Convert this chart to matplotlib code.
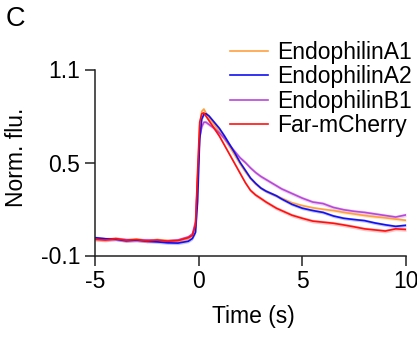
import matplotlib
matplotlib.use("Agg")
import matplotlib.pyplot as plt
import numpy as np

plt.rcParams['font.family'] = ['Liberation Sans', 'DejaVu Sans']

time_s = [-5, -4.5, -4, -3.5, -3, -2.5, -2, -1.5, -1, -0.5,
          -0.3, -0.15, -0.05, 0.05, 0.15, 0.25, 0.35,
          0.5, 0.75, 1, 1.25, 1.5, 1.75, 2, 2.25, 2.5, 2.75, 3, 3.25, 3.5, 3.75, 4,
          4.5, 5, 5.5, 6, 6.5, 7, 7.5, 8, 8.5, 9, 9.5, 10]

endo_a1 = [0.005, 0.002, 0.010, 0.000, 0.005, -0.002, 0.002, -0.004, -0.002, 0.010,
           0.030, 0.080, 0.400, 0.740, 0.830, 0.845, 0.820,
           0.790, 0.745, 0.700, 0.650, 0.600, 0.545, 0.490, 0.440, 0.395, 0.360, 0.335, 0.315, 0.300, 0.285, 0.270,
           0.240, 0.222, 0.208, 0.198, 0.190, 0.178, 0.168, 0.158, 0.150, 0.143, 0.135, 0.127]

endo_a2 = [0.015, 0.008, 0.005, -0.005, 0.000, -0.008, -0.012, -0.018, -0.020, -0.008,
           0.010, 0.050, 0.250, 0.650, 0.780, 0.810, 0.815,
           0.800, 0.760, 0.720, 0.670, 0.615, 0.560, 0.500, 0.450, 0.400, 0.365, 0.335, 0.315, 0.300, 0.285, 0.265,
           0.230, 0.205, 0.190, 0.178, 0.155, 0.140, 0.132, 0.125, 0.110, 0.098, 0.088, 0.095]

endo_b1 = [0.010, 0.004, 0.008, 0.002, -0.002, 0.000, -0.004, -0.006, 0.000, 0.020,
           0.040, 0.120, 0.400, 0.660, 0.730, 0.760, 0.760,
           0.745, 0.720, 0.690, 0.655, 0.610, 0.570, 0.530, 0.500, 0.465, 0.435, 0.410, 0.390, 0.370, 0.350, 0.330,
           0.300, 0.270, 0.245, 0.235, 0.210, 0.195, 0.185, 0.178, 0.168, 0.158, 0.148, 0.162]

far_mcherry = [0.005, 0.000, 0.008, -0.002, 0.003, -0.006, 0.000, -0.008, -0.004, 0.015,
               0.030, 0.100, 0.450, 0.760, 0.815, 0.820, 0.800,
               0.770, 0.720, 0.670, 0.610, 0.550, 0.490, 0.430, 0.370, 0.320, 0.290, 0.268, 0.245, 0.225, 0.205, 0.190,
               0.160, 0.140, 0.122, 0.115, 0.108, 0.097, 0.085, 0.072, 0.065, 0.058, 0.072, 0.068]

series_labels = ['EndophilinA1', 'EndophilinA2', 'EndophilinB1', 'Far-mCherry']
series_values = [endo_a1, endo_a2, endo_b1, far_mcherry]
series_sem = [0.010, 0.010, 0.012, 0.012]
series_colors = ['#FFA040', '#1010F0', '#B848D8', '#FF1010']
draw_order = [0, 2, 1, 3]

x_ticks = [-5, 0, 5, 10]
y_ticks = [-0.1, 0.5, 1.1]
y_ticklabels = ['-0.1', '0.5', '1.1']

W, H = 417, 338
fig = plt.figure(figsize=(W / 100, H / 100), dpi=100)
ax = fig.add_axes([95 / W, (H - 255.5) / H, (406 - 95) / W, (255.5 - 69.5) / H])

t = np.array(time_s)
handles = {}
for i in draw_order:
    y = np.array(series_values[i])
    s = series_sem[i]
    ax.fill_between(t, y - s, y + s, color=series_colors[i], alpha=0.25, lw=0)
    ln, = ax.plot(t, y, color=series_colors[i], lw=1.2, label=series_labels[i])
    handles[i] = ln

ax.set_xlim(-5, 10)
ax.set_ylim(-0.1, 1.1)
ax.set_xticks(x_ticks)
ax.set_xticklabels([str(v) for v in x_ticks])
ax.set_yticks(y_ticks)
ax.set_yticklabels(y_ticklabels)
for side in ['top', 'right']:
    ax.spines[side].set_visible(False)
for side in ['left', 'bottom']:
    ax.spines[side].set_linewidth(1.1)
    ax.spines[side].set_color('#222222')
ax.tick_params(axis='both', length=7.2, width=1.1, color='#222222', labelsize=16.5, pad=3.5)

fig.text(253.5 / W, 1 - 316.5 / H, 'Time (s)', ha='center', va='center', fontsize=16.5)
fig.text(17 / W, 1 - 157.5 / H, 'Norm. flu.', ha='center', va='center', rotation=90, fontsize=16.5)
fig.text(6 / W, 1 - 6 / H, 'C', ha='left', va='top', fontsize=19.5)

leg = fig.legend([handles[i] for i in range(4)], series_labels, loc='upper left',
                 bbox_to_anchor=(230 / W, 1 - 41 / H), frameon=False, fontsize=16.5,
                 handlelength=1.66, handletextpad=0.39, labelspacing=0.06,
                 borderpad=0, borderaxespad=0)

fig.savefig('out.png', dpi=100)
